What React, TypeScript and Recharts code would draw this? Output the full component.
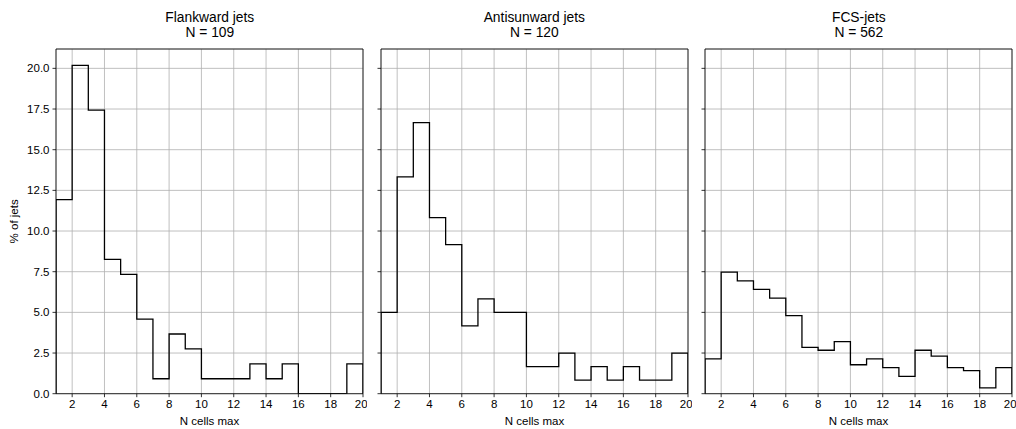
import { LineChart, Line, XAxis, YAxis, CartesianGrid, ReferenceArea } from "recharts";

// histogram bins: [start, start + 1)
const binStarts = [1, 2, 3, 4, 5, 6, 7, 8, 9, 10, 11, 12, 13, 14, 15, 16, 17, 18, 19];
const binEnd = 20;

// % of jets per bin
const flankwardPct = [11.93, 20.18, 17.43, 8.26, 7.34, 4.59, 0.92, 3.67, 2.75, 0.92, 0.92, 0.92, 1.83, 0.92, 1.83, 0, 0, 0, 1.83];
const antisunwardPct = [5.0, 13.33, 16.67, 10.83, 9.17, 4.17, 5.83, 5.0, 5.0, 1.67, 1.67, 2.5, 0.83, 1.67, 0.83, 1.67, 0.83, 0.83, 2.5];
const fcsPct = [2.14, 7.47, 6.94, 6.41, 5.87, 4.8, 2.85, 2.67, 3.2, 1.78, 2.14, 1.6, 1.07, 2.67, 2.31, 1.6, 1.42, 0.36, 1.6];

const panelTitles = ["Flankward jets", "Antisunward jets", "FCS-jets"];
const panelCounts = [109, 120, 562];

const xTicks = [2, 4, 6, 8, 10, 12, 14, 16, 18, 20];
const yTicks = [0, 2.5, 5, 7.5, 10, 12.5, 15, 17.5, 20];
const yMax = 21.19;

const PLOT_W = 307;
const panelLefts = [56.3, 380.8, 705.3];
const FONT = "'Liberation Sans', Arial, sans-serif";

function stepPoints(values: number[]) {
    const pts = [{ x: binStarts[0], y: 0 }];
    binStarts.forEach((b, i) => pts.push({ x: b, y: values[i] }));
    pts.push({ x: binEnd, y: values[values.length - 1] });
    pts.push({ x: binEnd, y: 0 });
    return pts;
}

interface PanelProps {
    values: number[];
    title: string;
    n: number;
    left: number;
    showY: boolean;
}

function Panel({ values, title, n, left, showY }: PanelProps) {
    const yw = showY ? 50 : 10;
    const tickStyle = { fill: "#000", fontSize: 11.5 };
    return (
        <>
            <div
                style={{
                    position: "absolute",
                    left,
                    top: 9.5,
                    width: PLOT_W,
                    textAlign: "center",
                    fontSize: 13.8,
                    lineHeight: "15px",
                    color: "#000",
                }}
            >
                <div>{title}</div>
                <div>N = {n}</div>
            </div>
            <div style={{ position: "absolute", left: left - yw, top: 0 }}>
                <LineChart
                    width={yw + PLOT_W + 4}
                    height={429}
                    data={stepPoints(values)}
                    margin={{ top: 49, right: 4, bottom: 3.3, left: 0 }}
                >
                    <CartesianGrid stroke="#b0b0b0" strokeWidth={0.8} />
                    <XAxis
                        type="number"
                        dataKey="x"
                        domain={[1, 20]}
                        ticks={xTicks}
                        allowDataOverflow
                        height={32}
                        axisLine={false}
                        tickLine={{ stroke: "#000", strokeWidth: 0.8 }}
                        tickSize={3.5}
                        tickMargin={3}
                        tick={tickStyle}
                        label={{ value: "N cells max", position: "insideBottom", offset: 1, fill: "#000", fontSize: 11.5 }}
                    />
                    <YAxis
                        type="number"
                        domain={[0, yMax]}
                        ticks={yTicks}
                        allowDataOverflow
                        width={yw}
                        axisLine={false}
                        tickLine={{ stroke: "#000", strokeWidth: 0.8 }}
                        tickSize={3.5}
                        tickMargin={3}
                        tick={tickStyle}
                        tickFormatter={(v: number) => (showY ? v.toFixed(1) : "")}
                        label={
                            showY
                                ? {
                                      value: "% of jets",
                                      angle: -90,
                                      position: "insideLeft",
                                      offset: 8,
                                      fill: "#000",
                                      fontSize: 11.5,
                                      style: { textAnchor: "middle" },
                                  }
                                : undefined
                        }
                    />
                    <Line
                        type="stepAfter"
                        dataKey="y"
                        stroke="#000"
                        strokeWidth={1.3}
                        dot={false}
                        activeDot={false}
                        isAnimationActive={false}
                    />
                    <ReferenceArea x1={1} x2={20} y1={0} y2={yMax} fill="none" stroke="#000" strokeWidth={0.8} />
                </LineChart>
            </div>
        </>
    );
}

export default function App() {
    const series = [flankwardPct, antisunwardPct, fcsPct];
    return (
        <div
            style={{
                position: "absolute",
                left: 0,
                top: 0,
                width: 1016,
                height: 429,
                background: "#fff",
                fontFamily: FONT,
            }}
        >
            {series.map((vals, i) => (
                <Panel
                    key={panelTitles[i]}
                    values={vals}
                    title={panelTitles[i]}
                    n={panelCounts[i]}
                    left={panelLefts[i]}
                    showY={i === 0}
                />
            ))}
        </div>
    );
}
